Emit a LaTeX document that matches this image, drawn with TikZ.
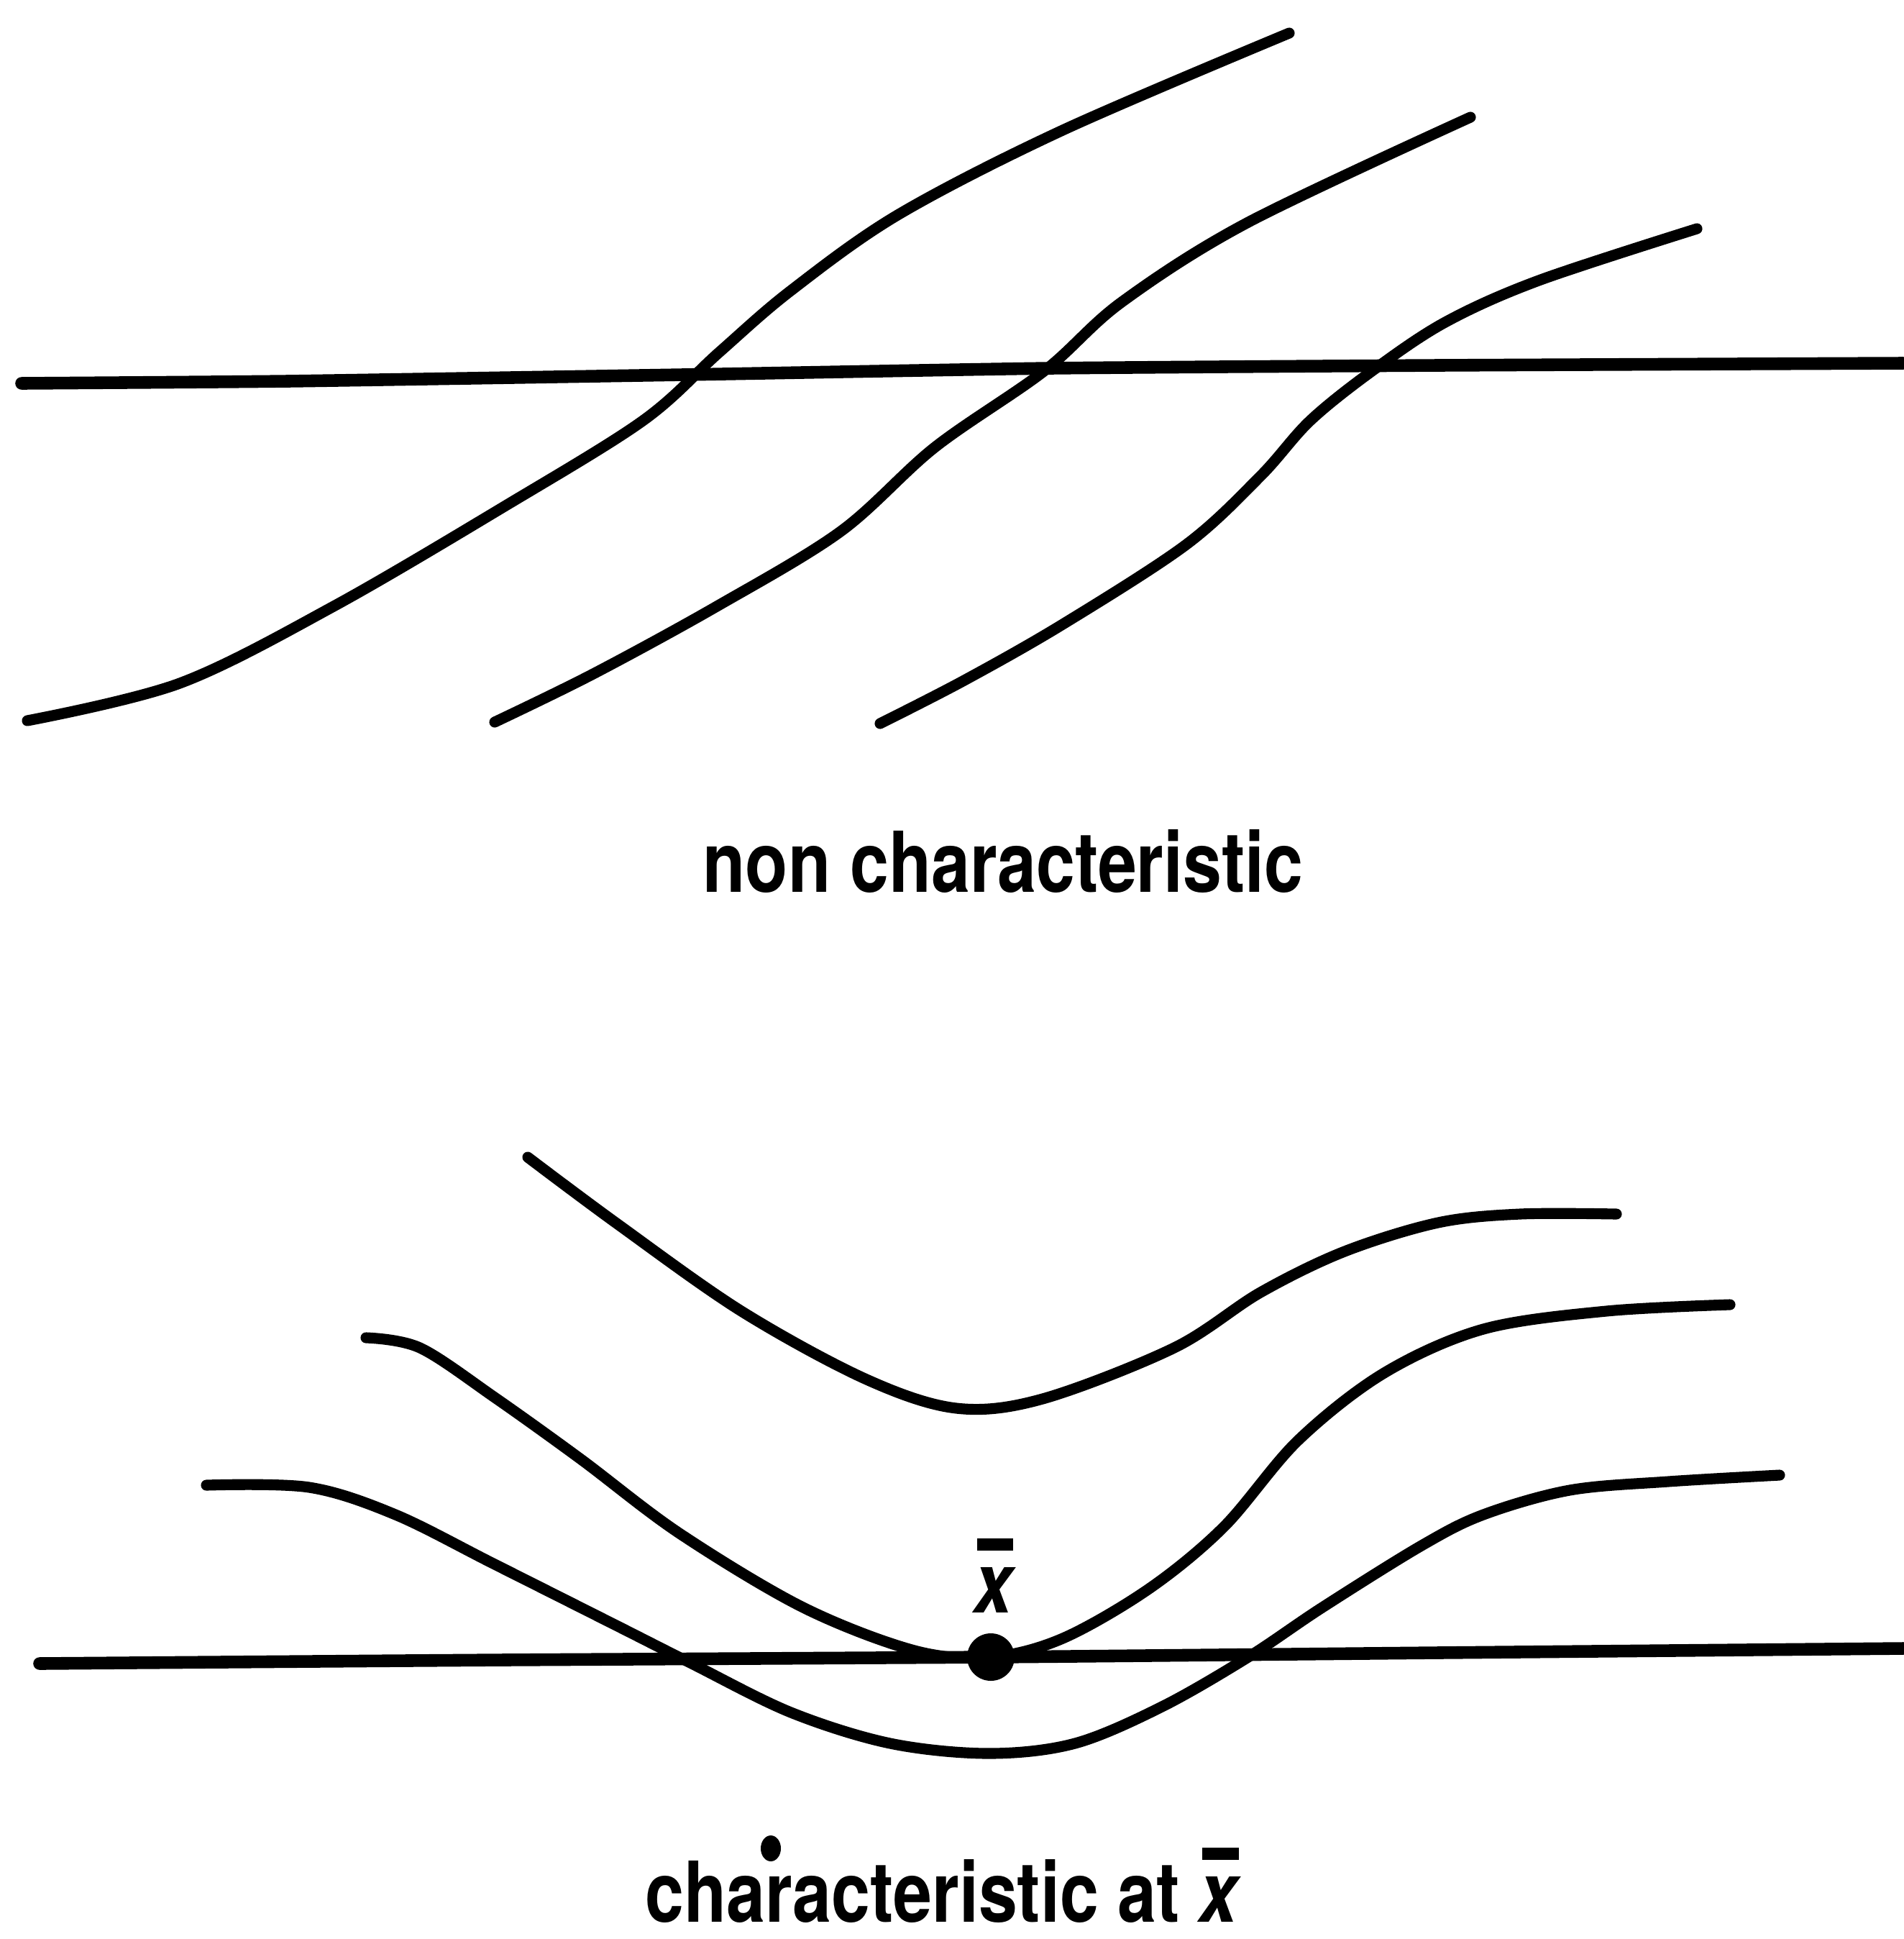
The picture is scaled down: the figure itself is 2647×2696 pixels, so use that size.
\documentclass[tikz,border=0pt]{standalone}
\usepackage{fontspec}
\setsansfont{TeX Gyre Heros}
\usepackage{graphicx}
\newcommand{\xbarr}{\leavevmode\vbox{\offinterlineskip\halign{\hfil##\hfil\cr\rule{0.52em}{0.14em}\cr\noalign{\kern0.2em}\textit{x}\cr}}}
\tikzset{
  curve/.style={line width=4.3pt, line cap=round, line join=round},
  baseline/.style={line width=5pt, line cap=round, line join=round},
  lbl/.style={inner sep=0pt, font=\fontsize{33.2pt}{40pt}\selectfont\sffamily\bfseries}
}
\begin{document}
\begin{tikzpicture}[x=0.01cm,y=-0.01cm]
\useasboundingbox (0,0) rectangle (2647,2696);
% ---- top figure ----
\draw[baseline] plot[smooth,tension=0.3] coordinates {(30,533) (400,530) (950,521) (1461,512) (2000,508) (2647,505)};
\draw[curve] plot[smooth,tension=0.55] coordinates {(38,1002) (250,950) (464,843) (700,705) (894,585) (1000,490) (1100,404) (1250,298) (1478,181) (1793,46)};
\draw[curve] plot[smooth,tension=0.55] coordinates {(688,1004) (825,937) (997,843) (1169,739) (1300,622) (1452,516) (1560,420) (1736,309) (2045,163)};
\draw[curve] plot[smooth,tension=0.55] coordinates {(1224,1006) (1341,946) (1478,868) (1650,757) (1753,662) (1822,585) (1908,516) (2010,448) (2140,390) (2360,318)};
\node[lbl, anchor=base west] (t1) at (977,1240) {\scalebox{0.83}[1]{non characteristic}};
% ---- bottom figure ----
\draw[baseline] plot[smooth,tension=0.3] coordinates {(55,2313) (700,2308) (1378,2304) (2000,2298) (2647,2292)};
\draw[curve] plot[smooth,tension=0.55] coordinates {(734,1609) (859,1702) (1031,1823) (1203,1917) (1330,1958) (1450,1945) (1633,1874) (1753,1797) (1870,1740) (2000,1700) (2114,1688) (2248,1688)};
\draw[curve] plot[smooth,tension=0.55] coordinates {(509,1860) (584,1874) (688,1943) (808,2029) (945,2132) (1117,2235) (1272,2295) (1378,2304) (1478,2278) (1598,2209) (1702,2123) (1805,2003) (1925,1909) (2063,1848) (2234,1823) (2406,1814)};
\draw[curve] plot[smooth,tension=0.55] coordinates {(287,2065) (430,2068) (550,2106) (688,2175) (859,2261) (962,2313) (1100,2381) (1238,2424) (1375,2438) (1495,2424) (1616,2373) (1736,2304) (1839,2235) (1977,2149) (2063,2106) (2183,2072) (2320,2060) (2475,2051)};
\fill (1378,2304) circle[radius=33];
\node[lbl, anchor=base] (xb) at (1384,2242) {\scalebox{0.83}[1]{\xbarr}};
\fill (1072,2570) ellipse[x radius=14, y radius=18];
\node[lbl, anchor=base west] (t2) at (897,2672) {\scalebox{0.83}[1]{characteristic at \xbarr}};
\end{tikzpicture}
\end{document}
